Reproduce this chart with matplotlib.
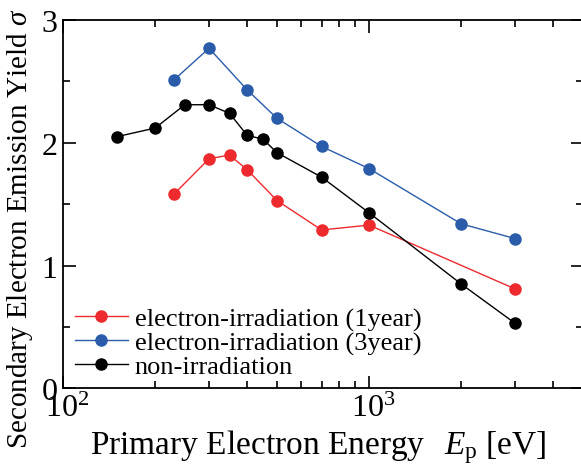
import matplotlib
matplotlib.use("Agg")
import matplotlib.pyplot as plt
from matplotlib.ticker import FixedLocator, NullFormatter
from matplotlib.transforms import ScaledTranslation

plt.rcParams['font.family'] = ['Liberation Serif', 'DejaVu Serif']
plt.rcParams['mathtext.fontset'] = 'custom'
plt.rcParams['mathtext.rm'] = 'Liberation Serif'
plt.rcParams['mathtext.it'] = 'Liberation Serif:italic'

# Data
x_1year = [230, 300, 350, 400, 500, 700, 1000, 3000]
y_1year = [1.58, 1.87, 1.90, 1.78, 1.53, 1.29, 1.33, 0.81]

x_3year = [230, 300, 400, 500, 700, 1000, 2000, 3000]
y_3year = [2.51, 2.77, 2.43, 2.20, 1.97, 1.79, 1.34, 1.22]

x_non = [150, 200, 250, 300, 350, 400, 450, 500, 700, 1000, 2000, 3000]
y_non = [2.05, 2.12, 2.31, 2.31, 2.24, 2.06, 2.03, 1.92, 1.72, 1.43, 0.85, 0.53]

labels = ['electron-irradiation (1year)', 'electron-irradiation (3year)', 'non-irradiation']
colors = ['#ee2a2e', '#2a5caa', '#000000']

W, H = 581, 477
fig = plt.figure(figsize=(W / 100, H / 100), dpi=100)
ax = fig.add_axes([63 / W, (H - 389.4) / H, (583 - 63) / W, (389.4 - 21) / H])

for xs, ys, lab, c in [(x_1year, y_1year, labels[0], colors[0]),
                       (x_3year, y_3year, labels[1], colors[1]),
                       (x_non, y_non, labels[2], colors[2])]:
    ax.plot(xs, ys, '-o', color=c, lw=1.0, ms=8, label=lab)

ax.set_xscale('log')
ax.set_xlim(100, 5000)
ax.set_ylim(0, 3)
ax.xaxis.set_major_locator(FixedLocator([100, 1000]))
ax.set_xticklabels([r'$10^{2}$', r'$10^{3}$'])
ax.xaxis.set_minor_locator(FixedLocator([200, 300, 400, 500, 600, 700, 800, 900, 2000, 3000, 4000]))
ax.xaxis.set_minor_formatter(NullFormatter())
ax.yaxis.set_major_locator(FixedLocator([0, 1, 2, 3]))
ax.set_yticklabels(['0', '1', '2', '3'])
ax.yaxis.set_minor_locator(FixedLocator([0.5, 1.5, 2.5]))

ax.tick_params(which='both', direction='in', top=True, right=True, width=1.2, labelsize=23)
ax.tick_params(which='major', length=9)
ax.tick_params(which='minor', length=5)
ax.tick_params(axis='x', which='major', pad=4)
ax.tick_params(axis='y', which='major', pad=4)
for sp in ax.spines.values():
    sp.set_linewidth(1.3)

for lbl in ax.get_xticklabels():
    lbl.set_transform(lbl.get_transform() + ScaledTranslation(4 / 100, 0, fig.dpi_scale_trans))

ax.set_xlabel(r'Primary Electron Energy  $\,E_{\rm p}$ [eV]', fontsize=24, labelpad=3)
ax.xaxis.label.set_x((318 - 63) / 520)
ax.set_ylabel(r'Secondary Electron Emission Yield $\sigma$', fontsize=21)
ax.yaxis.set_label_coords(-28 / 520, (389.4 - 228) / (389.4 - 21))

leg = ax.legend(loc='lower left', frameon=False, fontsize=19, handlelength=2.0,
                handletextpad=0.27, labelspacing=0.0, borderpad=0, borderaxespad=0,
                bbox_to_anchor=(12 / 520, 10 / 368.4))

fig.savefig('out.png', dpi=100)
